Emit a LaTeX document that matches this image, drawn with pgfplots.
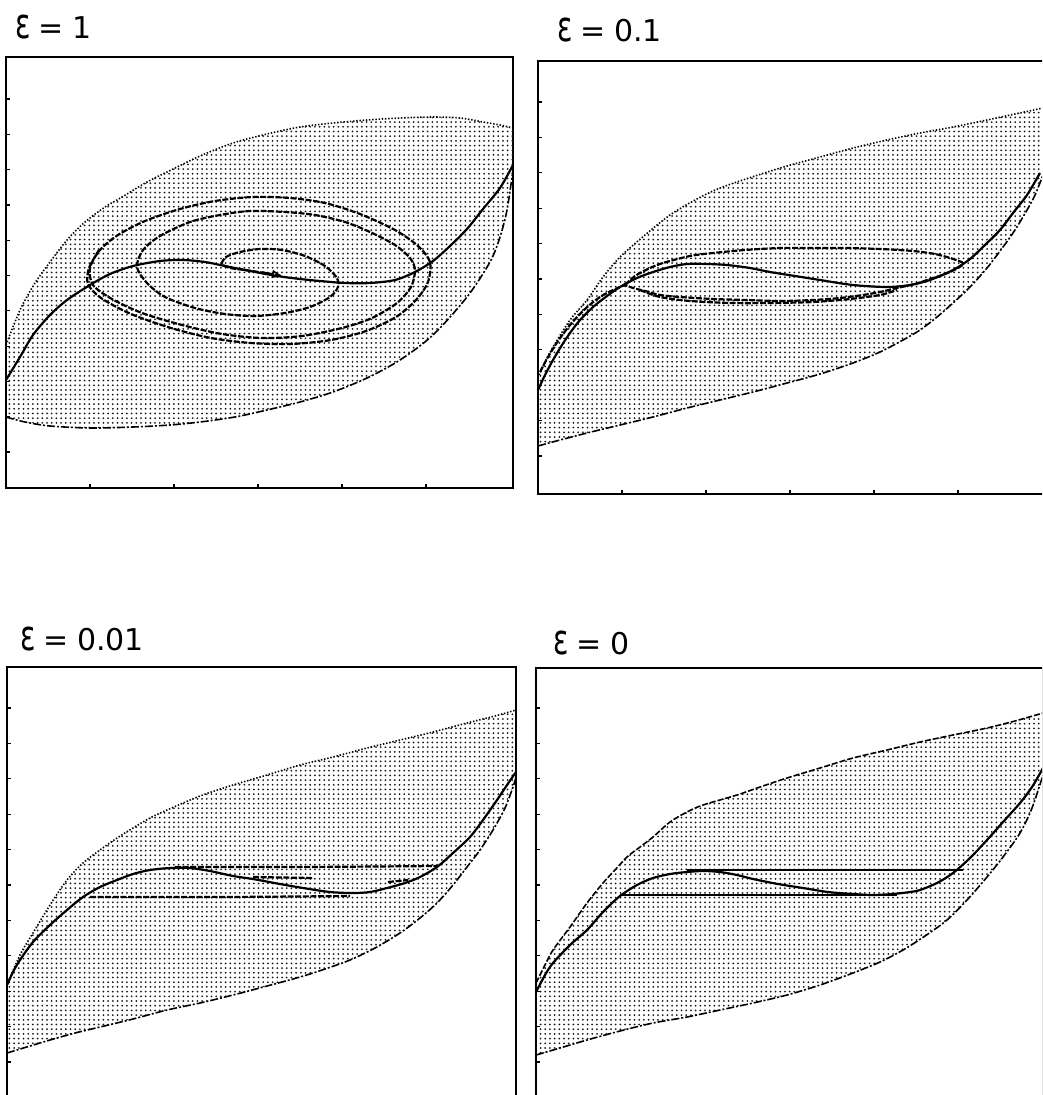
\documentclass[border=0pt]{standalone}
\usepackage{pgfplots}
\pgfplotsset{compat=1.18}
\usepackage{graphicx}
\usepackage{fontspec}
\setmainfont{DejaVu Sans}
\usetikzlibrary{patterns,arrows.meta}

% fine dot raster used for the shaded region
\pgfdeclarepatternformonly{finedots}{\pgfqpoint{-0.6pt}{-0.6pt}}{\pgfqpoint{0.6pt}{0.6pt}}{\pgfqpoint{2.35pt}{2.35pt}}{\pgfpathcircle{\pgfqpoint{0pt}{0pt}}{0.5pt}\pgfusepath{fill}}

\pgfplotsset{
  panel/.style={scale only axis, anchor=north west, y dir=reverse,
    xticklabels={}, yticklabels={}, tick align=inside,
    xtick pos=bottom, ytick pos=left, major tick length=2pt,
    axis line style={line width=1pt}, tick style={black,line width=0.6pt}},
  shade/.style={draw=none, pattern=finedots, pattern color=black!90},
  upper/.style={line width=0.8pt, dash pattern=on 0.7pt off 0.9pt},
  lower/.style={line width=0.8pt, dash pattern=on 4pt off 1pt on 1pt off 1pt},
  nullc/.style={line width=1.1pt, smooth},
  traj/.style={line width=1.1pt, dash pattern=on 3pt off 0.8pt, smooth},
}
\newcommand\epst[1]{\scalebox{0.95}[1.4]{ε}\;=\;#1}

\begin{document}
\begin{tikzpicture}
\useasboundingbox (0,0) rectangle (521pt,-547.5pt);
\clip (0,0) rectangle (521pt,-547.5pt);

\node[anchor=west,font=\fontsize{15}{18}\selectfont] at (4pt,-13.5pt) {\epst{1}};
\node[anchor=west,font=\fontsize{15}{18}\selectfont] at (275pt,-15pt) {\epst{0.1}};
\node[anchor=west,font=\fontsize{15}{18}\selectfont] at (6.5pt,-319.5pt) {\epst{0.01}};
\node[anchor=west,font=\fontsize{15}{18}\selectfont] at (273pt,-321.5pt) {\epst{0}};

% ---------------- epsilon = 1 ----------------
\begin{axis}[panel, at={(3pt,-28.5pt)}, width=253.5pt, height=215.5pt,
  xmin=6, xmax=513, ymin=57, ymax=488,
  xtick={90,174,258,342,426},
  ytick={99,134.3,169.6,204.9,240.2,275.5,310.8,346.1,381.4,416.7,452}]
\addplot[shade] coordinates {(6,345) (20,310) (35,283) (50,262) (67,240) (85,222) (105,207) (117,200) (127,194) (147,182) (167,172) (200,156) (233,143) (267,134) (300,127) (333,123) (367,120) (400,118) (433,117) (460,118) (483,122) (500,125) (513,128)
  (513,170) (507,210) (500,237) (490,262) (467,297) (433,335) (400,360) (367,378) (333,392) (300,402) (267,410) (235,417) (200,422) (170,425) (133,427) (90,428) (50,426) (25,422) (6,417)};
\addplot[upper, smooth] coordinates {(6,345) (20,310) (35,283) (50,262) (67,240) (85,222) (105,207) (117,200) (127,194) (147,182) (167,172) (200,156) (233,143) (267,134) (300,127) (333,123) (367,120) (400,118) (433,117) (460,118) (483,122) (500,125) (513,128)};
\addplot[lower, smooth] coordinates {(6,417) (25,422) (50,426) (90,428) (133,427) (170,425) (200,422) (235,417) (267,410) (300,402) (333,392) (367,378) (400,360) (433,335) (467,297) (490,262) (500,237) (507,210) (513,170)};
\addplot[nullc] coordinates {(6,380) (20,357) (33,335) (50,315) (67,300) (90,285) (110,274) (133,266) (160,261) (183,260) (205,262) (225,266) (250,271) (277,276) (300,279) (320,281) (345,283) (370,283) (395,280) (415,272) (433,261) (450,246) (467,229) (483,209) (500,188) (513,165)};
\addplot[traj] coordinates {(281,276) (265,273) (245,270) (230,268) (222,264) (226,257) (240,252) (260,249) (282,250) (305,256) (325,266) (337,278) (338,287) (330,297) (310,307) (285,313) (255,316) (225,314) (195,308) (165,297) (147,283) (137,267) (143,250) (160,236) (190,222) (220,215) (250,211) (285,212) (315,215) (345,222) (370,232) (395,245) (410,258) (415,270) (411,287) (397,303) (372,318) (342,328) (302,336) (262,338) (222,334) (182,325) (142,313) (112,299) (93,285) (90,268) (100,250) (118,235) (145,221) (180,209) (215,201) (253,197) (290,198) (325,203) (360,214) (395,230) (418,246) (430,262) (428,282) (416,300) (396,317) (366,331) (331,340) (291,344) (251,343) (211,338) (171,328) (131,314) (101,298) (88,284) (89,268) (99,250)};
\addplot[line width=0.8pt, -{Triangle[open,length=5pt,width=4pt]}] coordinates {(262,272) (282,276)};
\end{axis}

% ---------------- epsilon = 0.1 ----------------
\begin{axis}[panel, at={(269pt,-30.5pt)}, width=253.5pt, height=216.5pt,
  xmin=538, xmax=1045, ymin=61, ymax=494,
  xtick={622,706,790,874,958},
  ytick={102,137.4,172.8,208.2,243.6,279,314.4,349.8,385.2,420.6,456}]
\addplot[shade] coordinates {(538,378) (545,362) (553,347) (570,320) (587,300) (603,277) (620,257) (645,235) (670,215) (695,200) (720,188) (755,176) (787,166) (820,157) (853,148) (887,140) (920,133) (953,127) (987,120) (1015,114) (1043,108)
  (1043,175) (1035,195) (1027,210) (1015,230) (1003,247) (987,268) (970,287) (953,303) (937,317) (920,330) (903,340) (880,352) (853,363) (820,374) (787,383) (753,392) (720,400) (687,408) (653,417) (620,425) (587,433) (560,440) (538,446)};
\addplot[upper, smooth] coordinates {(538,378) (545,362) (553,347) (570,320) (587,300) (603,277) (620,257) (645,235) (670,215) (695,200) (720,188) (755,176) (787,166) (820,157) (853,148) (887,140) (920,133) (953,127) (987,120) (1015,114) (1043,108)};
\addplot[lower, smooth] coordinates {(538,446) (560,440) (587,433) (620,425) (653,417) (687,408) (720,400) (753,392) (787,383) (820,374) (853,363) (880,352) (903,340) (920,330) (937,317) (953,303) (970,287) (987,268) (1003,247) (1015,230) (1027,210) (1035,195) (1043,175)};
\addplot[nullc] coordinates {(538,390) (545,375) (553,360) (562,345) (570,333) (580,320) (593,307) (607,296) (620,287) (637,278) (653,272) (670,267) (687,264) (707,264) (727,265) (750,268) (770,272) (795,276) (820,280) (853,285) (887,287) (910,285) (930,280) (953,270) (970,259) (987,243) (1000,230) (1013,213) (1027,195) (1040,173)};
\addplot[traj] coordinates {(540,372) (548,357) (558,341) (570,325) (585,309) (600,297) (613,290) (625,285)};
\addplot[traj] coordinates {(625,285) (635,276) (650,268) (663,263) (690,256) (713,253) (745,250) (780,248) (813,248) (847,248) (880,249) (913,251) (935,254) (950,258) (963,263) (958,268) (945,274) (930,279) (915,284) (897,288) (880,292) (863,295) (840,298) (813,300) (780,301) (747,300) (713,299) (680,297) (660,295) (645,291) (633,288) (625,285)};
\addplot[traj] coordinates {(640,290) (660,297) (690,301) (730,303) (770,303) (813,302) (850,299) (880,295) (897,290)};
\end{axis}

% ---------------- epsilon = 0.01 ----------------
\begin{axis}[panel, at={(3.5pt,-333.5pt)}, width=254.5pt, height=215.5pt,
  xmin=7, xmax=516, ymin=667, ymax=1098,
  xtick=\empty,
  ytick={708,743.4,778.8,814.2,849.6,885,920.4,955.8,991.2,1026.6,1062}]
\addplot[shade] coordinates {(7,985) (20,955) (33,933) (50,905) (67,880) (83,863) (100,850) (117,838) (133,828) (150,818) (167,810) (200,796) (233,785) (267,775) (300,765) (333,757) (367,748) (400,740) (433,732) (467,723) (495,716) (516,710)
  (516,777) (513,787) (505,808) (493,830) (480,850) (467,867) (453,885) (437,903) (420,918) (400,933) (375,948) (350,960) (325,969) (300,977) (267,986) (233,995) (200,1003) (167,1010) (133,1019) (100,1027) (75,1033) (50,1040) (30,1046) (7,1053)};
\addplot[upper, smooth] coordinates {(7,985) (20,955) (33,933) (50,905) (67,880) (83,863) (100,850) (117,838) (133,828) (150,818) (167,810) (200,796) (233,785) (267,775) (300,765) (333,757) (367,748) (400,740) (433,732) (467,723) (495,716) (516,710)};
\addplot[lower, smooth] coordinates {(7,1053) (30,1046) (50,1040) (75,1033) (100,1027) (133,1019) (167,1010) (200,1003) (233,995) (267,986) (300,977) (325,969) (350,960) (375,948) (400,933) (420,918) (437,903) (453,885) (467,867) (480,850) (493,830) (505,808) (513,787) (516,777)};
\addplot[nullc] coordinates {(7,985) (13,972) (20,960) (33,942) (50,925) (67,910) (83,897) (100,887) (117,880) (133,874) (150,870) (170,868) (190,868) (210,871) (233,876) (253,879) (280,884) (303,888) (330,892) (353,893) (370,892) (387,888) (405,883) (420,877) (437,867) (453,853) (470,837) (483,820) (497,800) (507,785) (516,772)};
\addplot[traj] coordinates {(175,867) (300,867) (437,866)};
\addplot[traj] coordinates {(90,897) (220,897) (350,896)};
\addplot[traj] coordinates {(253,877) (313,878)};
\addplot[traj] coordinates {(388,882) (408,880)};
\end{axis}

% ---------------- epsilon = 0 ----------------
\begin{axis}[panel, at={(268pt,-334pt)}, width=253.5pt, height=215.5pt,
  xmin=536, xmax=1043, ymin=668, ymax=1099,
  xtick=\empty,
  ytick={708,743.4,778.8,814.2,849.6,885,920.4,955.8,991.2,1026.6,1062}]
\addplot[shade] coordinates {(536,983) (545,965) (553,950) (570,927) (587,903) (603,883) (615,870) (627,857) (640,847) (653,837) (670,822) (687,812) (703,805) (737,795) (760,787) (787,778) (820,768) (853,758) (887,750) (920,742) (953,735) (987,728) (1015,721) (1043,713)
  (1043,775) (1032,808) (1020,833) (1003,857) (987,877) (967,900) (947,920) (925,936) (903,950) (880,962) (853,973) (820,985) (787,995) (753,1003) (720,1010) (687,1017) (653,1023) (620,1031) (587,1040) (560,1048) (536,1055)};
\addplot[line width=0.8pt, dash pattern=on 3pt off 1pt, smooth] coordinates {(536,983) (545,965) (553,950) (570,927) (587,903) (603,883) (615,870) (627,857) (640,847) (653,837) (670,822) (687,812) (703,805) (737,795) (760,787) (787,778) (820,768) (853,758) (887,750) (920,742) (953,735) (987,728) (1015,721) (1043,713)};
\addplot[lower, smooth] coordinates {(536,1055) (560,1048) (587,1040) (620,1031) (653,1023) (687,1017) (720,1010) (753,1003) (787,995) (820,985) (853,973) (880,962) (903,950) (925,936) (947,920) (967,900) (987,877) (1003,857) (1020,833) (1032,808) (1043,775)};
\addplot[nullc] coordinates {(536,992) (545,975) (553,963) (570,945) (587,930) (603,912) (620,896) (637,885) (653,878) (670,874) (687,872) (703,871) (720,872) (737,875) (753,879) (778,884) (803,888) (828,892) (853,894) (873,895) (893,894) (910,892) (920,890) (937,883) (953,873) (970,858) (987,840) (1003,822) (1020,803) (1032,787) (1043,768)};
\addplot[line width=1.4pt] coordinates {(687,870) (963,870)};
\addplot[line width=1.4pt] coordinates {(620,895) (897,895)};
\end{axis}
\end{tikzpicture}
\end{document}
